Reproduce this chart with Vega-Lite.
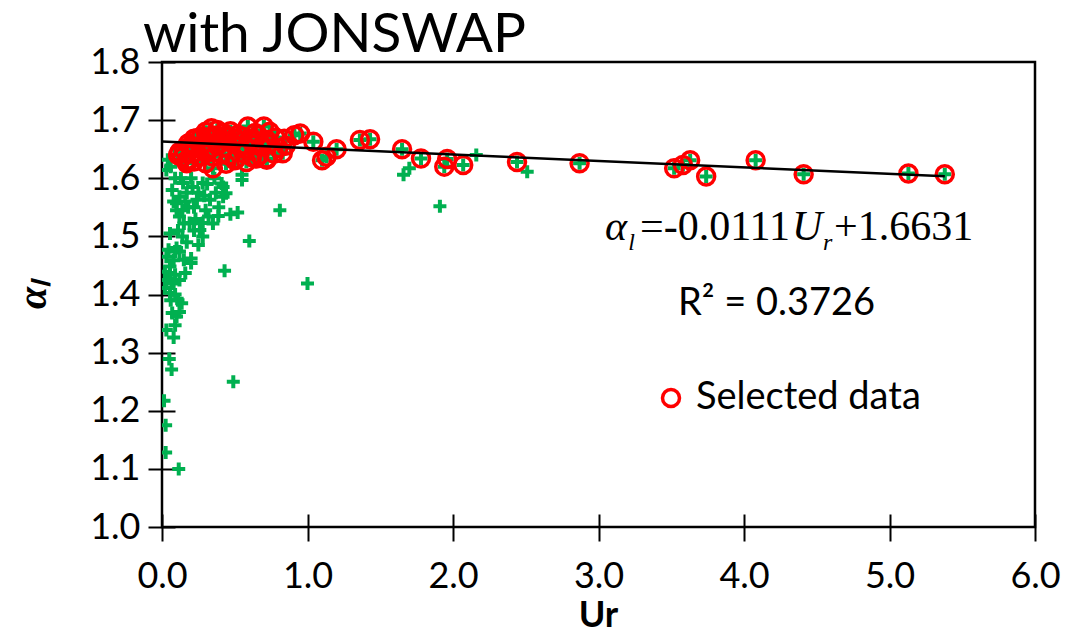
{
  "$schema": "https://vega.github.io/schema/vega-lite/v6.json",
  "width": 873,
  "height": 465,
  "autosize": "none",
  "padding": {"left": 162, "top": 62, "right": 31, "bottom": 106},
  "background": "white",
  "title": {
    "text": "with JONSWAP",
    "anchor": "start",
    "frame": "group",
    "dx": -19,
    "dy": 75,
    "offset": 12,
    "baseline": "alphabetic",
    "font": "Lato",
    "fontSize": 55,
    "fontWeight": "normal",
    "color": "black"
  },
  "config": {
    "view": {"stroke": "black", "strokeWidth": 2.5},
    "axis": {
      "domain": false,
      "grid": false,
      "offset": -13,
      "tickColor": "black",
      "tickWidth": 2,
      "tickSize": 27,
      "labelFont": "Lato",
      "labelFontSize": 36,
      "labelColor": "black",
      "labelPadding": 8,
      "labelFlush": false,
      "titleColor": "black"
    }
  },
  "datasets": {
    "obs": [
      {"Ur": 0.30, "alpha": 1.680, "selected": true},
      {"Ur": 0.34, "alpha": 1.686, "selected": true},
      {"Ur": 0.38, "alpha": 1.683, "selected": true},
      {"Ur": 0.42, "alpha": 1.678, "selected": true},
      {"Ur": 0.47, "alpha": 1.681, "selected": true},
      {"Ur": 0.52, "alpha": 1.675, "selected": true},
      {"Ur": 0.59, "alpha": 1.689, "selected": true},
      {"Ur": 0.64, "alpha": 1.678, "selected": true},
      {"Ur": 0.70, "alpha": 1.689, "selected": true},
      {"Ur": 0.74, "alpha": 1.680, "selected": true},
      {"Ur": 0.18, "alpha": 1.660, "selected": true},
      {"Ur": 0.22, "alpha": 1.668, "selected": true},
      {"Ur": 0.24, "alpha": 1.669, "selected": true},
      {"Ur": 0.27, "alpha": 1.672, "selected": true},
      {"Ur": 0.31, "alpha": 1.670, "selected": true},
      {"Ur": 0.36, "alpha": 1.673, "selected": true},
      {"Ur": 0.40, "alpha": 1.668, "selected": true},
      {"Ur": 0.45, "alpha": 1.671, "selected": true},
      {"Ur": 0.50, "alpha": 1.669, "selected": true},
      {"Ur": 0.55, "alpha": 1.672, "selected": true},
      {"Ur": 0.60, "alpha": 1.667, "selected": true},
      {"Ur": 0.66, "alpha": 1.674, "selected": true},
      {"Ur": 0.72, "alpha": 1.666, "selected": true},
      {"Ur": 0.78, "alpha": 1.670, "selected": true},
      {"Ur": 0.84, "alpha": 1.668, "selected": true},
      {"Ur": 0.91, "alpha": 1.674, "selected": true},
      {"Ur": 0.12, "alpha": 1.645, "selected": true},
      {"Ur": 0.15, "alpha": 1.649, "selected": true},
      {"Ur": 0.19, "alpha": 1.655, "selected": true},
      {"Ur": 0.23, "alpha": 1.652, "selected": true},
      {"Ur": 0.28, "alpha": 1.658, "selected": true},
      {"Ur": 0.33, "alpha": 1.650, "selected": true},
      {"Ur": 0.38, "alpha": 1.656, "selected": true},
      {"Ur": 0.43, "alpha": 1.653, "selected": true},
      {"Ur": 0.48, "alpha": 1.660, "selected": true},
      {"Ur": 0.53, "alpha": 1.655, "selected": true},
      {"Ur": 0.58, "alpha": 1.651, "selected": true},
      {"Ur": 0.63, "alpha": 1.657, "selected": true},
      {"Ur": 0.68, "alpha": 1.654, "selected": true},
      {"Ur": 0.73, "alpha": 1.659, "selected": true},
      {"Ur": 0.80, "alpha": 1.652, "selected": true},
      {"Ur": 0.85, "alpha": 1.656, "selected": true},
      {"Ur": 0.11, "alpha": 1.640, "selected": true},
      {"Ur": 0.14, "alpha": 1.636, "selected": true},
      {"Ur": 0.17, "alpha": 1.631, "selected": true},
      {"Ur": 0.21, "alpha": 1.642, "selected": true},
      {"Ur": 0.26, "alpha": 1.638, "selected": true},
      {"Ur": 0.30, "alpha": 1.644, "selected": true},
      {"Ur": 0.35, "alpha": 1.637, "selected": true},
      {"Ur": 0.41, "alpha": 1.641, "selected": true},
      {"Ur": 0.46, "alpha": 1.639, "selected": true},
      {"Ur": 0.51, "alpha": 1.633, "selected": true},
      {"Ur": 0.56, "alpha": 1.643, "selected": true},
      {"Ur": 0.62, "alpha": 1.636, "selected": true},
      {"Ur": 0.67, "alpha": 1.640, "selected": true},
      {"Ur": 0.72, "alpha": 1.634, "selected": true},
      {"Ur": 0.77, "alpha": 1.642, "selected": true},
      {"Ur": 0.83, "alpha": 1.643, "selected": true},
      {"Ur": 0.17, "alpha": 1.626, "selected": true},
      {"Ur": 0.22, "alpha": 1.629, "selected": true},
      {"Ur": 0.30, "alpha": 1.626, "selected": true},
      {"Ur": 0.35, "alpha": 1.617, "selected": true},
      {"Ur": 0.44, "alpha": 1.625, "selected": true},
      {"Ur": 0.50, "alpha": 1.631, "selected": true},
      {"Ur": 0.58, "alpha": 1.628, "selected": true},
      {"Ur": 0.65, "alpha": 1.634, "selected": true},
      {"Ur": 0.72, "alpha": 1.632, "selected": true},
      {"Ur": 0.95, "alpha": 1.677, "selected": true},
      {"Ur": 1.04, "alpha": 1.663, "selected": true},
      {"Ur": 1.10, "alpha": 1.631, "selected": true},
      {"Ur": 1.13, "alpha": 1.637, "selected": true},
      {"Ur": 1.20, "alpha": 1.650, "selected": true},
      {"Ur": 1.36, "alpha": 1.666, "selected": true},
      {"Ur": 1.43, "alpha": 1.667, "selected": true},
      {"Ur": 1.65, "alpha": 1.650, "selected": true},
      {"Ur": 1.78, "alpha": 1.634, "selected": true},
      {"Ur": 1.94, "alpha": 1.620, "selected": true},
      {"Ur": 1.96, "alpha": 1.633, "selected": true},
      {"Ur": 2.07, "alpha": 1.623, "selected": true},
      {"Ur": 2.44, "alpha": 1.628, "selected": true},
      {"Ur": 2.87, "alpha": 1.626, "selected": true},
      {"Ur": 3.52, "alpha": 1.617, "selected": true},
      {"Ur": 3.58, "alpha": 1.623, "selected": true},
      {"Ur": 3.63, "alpha": 1.631, "selected": true},
      {"Ur": 3.74, "alpha": 1.603, "selected": true},
      {"Ur": 4.08, "alpha": 1.631, "selected": true},
      {"Ur": 4.41, "alpha": 1.607, "selected": true},
      {"Ur": 5.13, "alpha": 1.608, "selected": true},
      {"Ur": 5.38, "alpha": 1.607, "selected": true},
      {"Ur": 0.014, "alpha": 1.217, "selected": false},
      {"Ur": 0.025, "alpha": 1.175, "selected": false},
      {"Ur": 0.025, "alpha": 1.128, "selected": false},
      {"Ur": 0.115, "alpha": 1.100, "selected": false},
      {"Ur": 0.05, "alpha": 1.289, "selected": false},
      {"Ur": 0.066, "alpha": 1.271, "selected": false},
      {"Ur": 0.49, "alpha": 1.250, "selected": false},
      {"Ur": 0.08, "alpha": 1.326, "selected": false},
      {"Ur": 0.03, "alpha": 1.339, "selected": false},
      {"Ur": 0.09, "alpha": 1.347, "selected": false},
      {"Ur": 0.07, "alpha": 1.368, "selected": false},
      {"Ur": 0.10, "alpha": 1.362, "selected": false},
      {"Ur": 0.12, "alpha": 1.370, "selected": false},
      {"Ur": 0.135, "alpha": 1.385, "selected": false},
      {"Ur": 0.11, "alpha": 1.390, "selected": false},
      {"Ur": 0.055, "alpha": 1.403, "selected": false},
      {"Ur": 0.02, "alpha": 1.411, "selected": false},
      {"Ur": 0.066, "alpha": 1.420, "selected": false},
      {"Ur": 0.12, "alpha": 1.425, "selected": false},
      {"Ur": 0.16, "alpha": 1.437, "selected": false},
      {"Ur": 0.43, "alpha": 1.441, "selected": false},
      {"Ur": 0.055, "alpha": 1.437, "selected": false},
      {"Ur": 0.03, "alpha": 1.425, "selected": false},
      {"Ur": 0.08, "alpha": 1.419, "selected": false},
      {"Ur": 0.02, "alpha": 1.439, "selected": false},
      {"Ur": 0.09, "alpha": 1.434, "selected": false},
      {"Ur": 0.055, "alpha": 1.448, "selected": false},
      {"Ur": 0.08, "alpha": 1.459, "selected": false},
      {"Ur": 0.03, "alpha": 1.465, "selected": false},
      {"Ur": 0.045, "alpha": 1.477, "selected": false},
      {"Ur": 0.09, "alpha": 1.474, "selected": false},
      {"Ur": 0.12, "alpha": 1.474, "selected": false},
      {"Ur": 0.20, "alpha": 1.462, "selected": false},
      {"Ur": 0.20, "alpha": 1.454, "selected": false},
      {"Ur": 0.055, "alpha": 1.505, "selected": false},
      {"Ur": 0.25, "alpha": 1.485, "selected": false},
      {"Ur": 0.28, "alpha": 1.500, "selected": false},
      {"Ur": 0.26, "alpha": 1.511, "selected": false},
      {"Ur": 0.28, "alpha": 1.523, "selected": false},
      {"Ur": 0.32, "alpha": 1.534, "selected": false},
      {"Ur": 0.35, "alpha": 1.522, "selected": false},
      {"Ur": 0.387, "alpha": 1.535, "selected": false},
      {"Ur": 0.19, "alpha": 1.523, "selected": false},
      {"Ur": 0.15, "alpha": 1.522, "selected": false},
      {"Ur": 0.12, "alpha": 1.534, "selected": false},
      {"Ur": 0.10, "alpha": 1.545, "selected": false},
      {"Ur": 0.08, "alpha": 1.560, "selected": false},
      {"Ur": 0.52, "alpha": 1.541, "selected": false},
      {"Ur": 0.81, "alpha": 1.545, "selected": false},
      {"Ur": 0.60, "alpha": 1.492, "selected": false},
      {"Ur": 1.00, "alpha": 1.419, "selected": false},
      {"Ur": 1.91, "alpha": 1.552, "selected": false},
      {"Ur": 0.10, "alpha": 1.557, "selected": false},
      {"Ur": 0.12, "alpha": 1.568, "selected": false},
      {"Ur": 0.17, "alpha": 1.575, "selected": false},
      {"Ur": 0.24, "alpha": 1.563, "selected": false},
      {"Ur": 0.33, "alpha": 1.563, "selected": false},
      {"Ur": 0.42, "alpha": 1.568, "selected": false},
      {"Ur": 0.42, "alpha": 1.585, "selected": false},
      {"Ur": 0.28, "alpha": 1.592, "selected": false},
      {"Ur": 0.21, "alpha": 1.585, "selected": false},
      {"Ur": 0.145, "alpha": 1.592, "selected": false},
      {"Ur": 0.55, "alpha": 1.597, "selected": false},
      {"Ur": 0.44, "alpha": 1.574, "selected": false},
      {"Ur": 0.41, "alpha": 1.591, "selected": false},
      {"Ur": 0.55, "alpha": 1.606, "selected": false},
      {"Ur": 1.66, "alpha": 1.606, "selected": false},
      {"Ur": 1.70, "alpha": 1.617, "selected": false},
      {"Ur": 2.16, "alpha": 1.640, "selected": false},
      {"Ur": 2.51, "alpha": 1.611, "selected": false},
      {"Ur": 0.04, "alpha": 1.632, "selected": false},
      {"Ur": 0.03, "alpha": 1.614, "selected": false},
      {"Ur": 0.07, "alpha": 1.580, "selected": false},
      {"Ur": 0.09, "alpha": 1.600, "selected": false},
      {"Ur": 0.13, "alpha": 1.600, "selected": false},
      {"Ur": 0.16, "alpha": 1.560, "selected": false},
      {"Ur": 0.18, "alpha": 1.550, "selected": false},
      {"Ur": 0.20, "alpha": 1.600, "selected": false},
      {"Ur": 0.22, "alpha": 1.550, "selected": false},
      {"Ur": 0.25, "alpha": 1.575, "selected": false},
      {"Ur": 0.29, "alpha": 1.570, "selected": false},
      {"Ur": 0.31, "alpha": 1.590, "selected": false},
      {"Ur": 0.36, "alpha": 1.600, "selected": false},
      {"Ur": 0.39, "alpha": 1.550, "selected": false},
      {"Ur": 0.37, "alpha": 1.575, "selected": false},
      {"Ur": 0.14, "alpha": 1.545, "selected": false},
      {"Ur": 0.06, "alpha": 1.620, "selected": false},
      {"Ur": 0.22, "alpha": 1.510, "selected": false},
      {"Ur": 0.17, "alpha": 1.490, "selected": false},
      {"Ur": 0.14, "alpha": 1.500, "selected": false},
      {"Ur": 0.23, "alpha": 1.530, "selected": false},
      {"Ur": 0.30, "alpha": 1.545, "selected": false},
      {"Ur": 0.11, "alpha": 1.510, "selected": false},
      {"Ur": 0.10, "alpha": 1.480, "selected": false},
      {"Ur": 0.15, "alpha": 1.460, "selected": false},
      {"Ur": 0.06, "alpha": 1.390, "selected": false},
      {"Ur": 0.09, "alpha": 1.400, "selected": false},
      {"Ur": 0.47, "alpha": 1.538, "selected": false}
    ],
    "fit": [
      {"Ur": 0, "alpha": 1.6631},
      {"Ur": 5.38, "alpha": 1.6034}
    ],
    "eqItalic": [
      {"Ur": 3.045, "alpha": 1.4938, "t": "α"},
      {"Ur": 4.330, "alpha": 1.4938, "t": "U"}
    ],
    "eqSub": [
      {"Ur": 3.205, "alpha": 1.4766, "t": "l"},
      {"Ur": 4.543, "alpha": 1.4766, "t": "r"}
    ],
    "eqRoman": [
      {"Ur": 3.285, "alpha": 1.4938, "t": "=-0.0111"},
      {"Ur": 4.619, "alpha": 1.4938, "t": "+1.6631"}
    ],
    "r2": [
      {"Ur": 3.546, "alpha": 1.3647, "t": "R² = 0.3726"}
    ]
  },
  "layer": [
    {
      "data": {"name": "obs"},
      "mark": {
        "type": "point",
        "shape": "M-1,0L1,0M0,-1L0,1",
        "size": 169,
        "filled": false,
        "strokeWidth": 4,
        "color": "#00B050",
        "opacity": 1,
        "clip": true
      },
      "encoding": {
        "x": {
          "field": "Ur",
          "type": "quantitative",
          "scale": {"domain": [0, 6], "nice": false, "zero": false},
          "axis": {
            "values": [0, 1, 2, 3, 4, 5, 6],
            "format": ".1f",
            "labelPadding": 18,
            "title": "Ur",
            "titleFont": "Lato",
            "titleFontSize": 36,
            "titleFontWeight": "bold",
            "titleBaseline": "alphabetic",
            "titleX": 436,
            "titleY": 112
          }
        },
        "y": {
          "field": "alpha",
          "type": "quantitative",
          "scale": {"domain": [1.0, 1.8], "nice": false, "zero": false},
          "axis": {
            "values": [1.0, 1.1, 1.2, 1.3, 1.4, 1.5, 1.6, 1.7, 1.8],
            "format": ".1f",
            "title": "αₗ",
            "titleFont": "Liberation Serif",
            "titleFontSize": 40,
            "titleFontWeight": "bold",
            "titleFontStyle": "italic",
            "titleAngle": 270,
            "titleAlign": "center",
            "titleBaseline": "middle",
            "titleX": -142,
            "titleY": 232
          }
        }
      }
    },
    {
      "data": {"name": "obs"},
      "transform": [{"filter": "datum.selected"}],
      "mark": {
        "type": "point",
        "shape": "circle",
        "size": 289,
        "filled": false,
        "strokeWidth": 3.5,
        "opacity": 1
      },
      "encoding": {
        "x": {"field": "Ur", "type": "quantitative"},
        "y": {"field": "alpha", "type": "quantitative"},
        "color": {
          "datum": "Selected data",
          "type": "nominal",
          "scale": {"range": ["#FF0000"]},
          "legend": {
            "title": null,
            "orient": "none",
            "legendX": 490,
            "legendY": 317,
            "padding": 0,
            "symbolType": "circle",
            "symbolSize": 289,
            "symbolStrokeWidth": 3.5,
            "symbolStrokeColor": "#FF0000",
            "labelFont": "Lato",
            "labelFontSize": 38,
            "labelColor": "black",
            "labelOffset": 6,
            "labelLimit": 400
          }
        }
      }
    },
    {
      "data": {"name": "fit"},
      "mark": {"type": "line", "color": "black", "strokeWidth": 2.5},
      "encoding": {
        "x": {"field": "Ur", "type": "quantitative"},
        "y": {"field": "alpha", "type": "quantitative"}
      }
    },
    {
      "data": {"name": "eqItalic"},
      "mark": {
        "type": "text",
        "font": "Liberation Serif",
        "fontStyle": "italic",
        "fontSize": 42,
        "align": "left",
        "baseline": "alphabetic",
        "color": "black"
      },
      "encoding": {
        "x": {"field": "Ur", "type": "quantitative"},
        "y": {"field": "alpha", "type": "quantitative"},
        "text": {"field": "t"}
      }
    },
    {
      "data": {"name": "eqSub"},
      "mark": {
        "type": "text",
        "font": "Liberation Serif",
        "fontStyle": "italic",
        "fontSize": 24,
        "align": "left",
        "baseline": "alphabetic",
        "color": "black"
      },
      "encoding": {
        "x": {"field": "Ur", "type": "quantitative"},
        "y": {"field": "alpha", "type": "quantitative"},
        "text": {"field": "t"}
      }
    },
    {
      "data": {"name": "eqRoman"},
      "mark": {
        "type": "text",
        "font": "Liberation Serif",
        "fontSize": 42,
        "align": "left",
        "baseline": "alphabetic",
        "color": "black"
      },
      "encoding": {
        "x": {"field": "Ur", "type": "quantitative"},
        "y": {"field": "alpha", "type": "quantitative"},
        "text": {"field": "t"}
      }
    },
    {
      "data": {"name": "r2"},
      "mark": {
        "type": "text",
        "font": "Lato",
        "fontSize": 38,
        "align": "left",
        "baseline": "alphabetic",
        "color": "black"
      },
      "encoding": {
        "x": {"field": "Ur", "type": "quantitative"},
        "y": {"field": "alpha", "type": "quantitative"},
        "text": {"field": "t"}
      }
    }
  ]
}
